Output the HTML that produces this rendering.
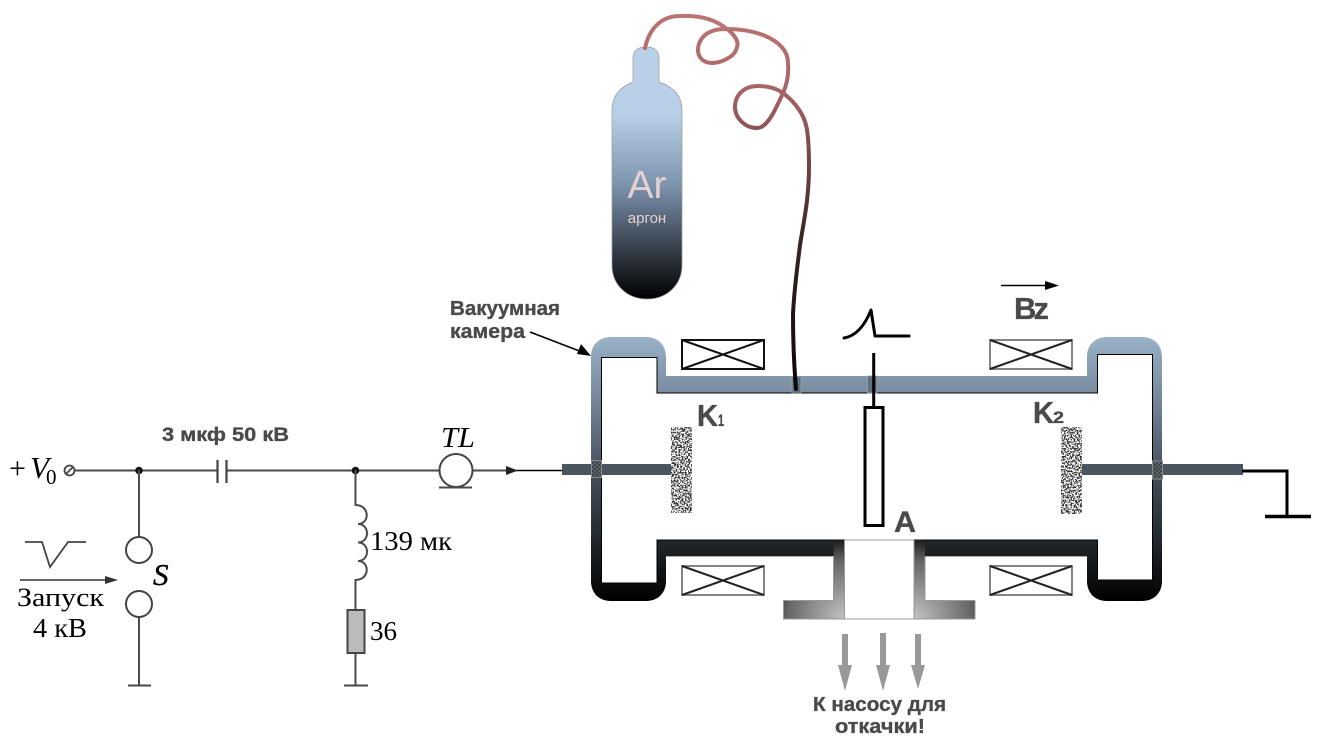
<!DOCTYPE html>
<html><head><meta charset="utf-8"><style>
html,body{margin:0;padding:0;background:#fff;width:1336px;height:736px;overflow:hidden}
svg{display:block}
.b{font-family:"Liberation Sans",sans-serif;font-weight:bold;fill:#4a4a4a;stroke:#4a4a4a;stroke-width:.35}
.s{font-family:"Liberation Serif",serif;fill:#000}
.w{stroke:#4a4a4a;stroke-width:2;fill:none}
</style></head><body>
<svg width="1336" height="736" viewBox="0 0 1336 736" xmlns="http://www.w3.org/2000/svg">
<defs>
<linearGradient id="ch" gradientUnits="userSpaceOnUse" x1="0" y1="337" x2="0" y2="601">
<stop offset="0" stop-color="#9ab1c8"/><stop offset=".2" stop-color="#7b8ea2"/><stop offset=".5" stop-color="#465260"/><stop offset=".8" stop-color="#1e2227"/><stop offset="1" stop-color="#000"/></linearGradient>
<linearGradient id="bot" gradientUnits="userSpaceOnUse" x1="0" y1="47" x2="0" y2="299">
<stop offset="0" stop-color="#b9d0e9"/><stop offset=".27" stop-color="#b8cfe8"/><stop offset=".55" stop-color="#7c93ad"/><stop offset=".75" stop-color="#44505f"/><stop offset=".9" stop-color="#1b1f25"/><stop offset="1" stop-color="#000"/></linearGradient>
<linearGradient id="hose" gradientUnits="userSpaceOnUse" x1="0" y1="15" x2="0" y2="390">
<stop offset="0" stop-color="#bb7474"/><stop offset=".2" stop-color="#a86464"/><stop offset=".35" stop-color="#7d4c4c"/><stop offset=".6" stop-color="#3a2424"/><stop offset="1" stop-color="#0a0606"/></linearGradient>
<radialGradient id="pl" gradientUnits="userSpaceOnUse" cx="845" cy="619" r="80">
<stop offset="0" stop-color="#c4c4c4"/><stop offset=".72" stop-color="#666"/><stop offset="1" stop-color="#1a1a1a"/></radialGradient>
<radialGradient id="pr" gradientUnits="userSpaceOnUse" cx="914" cy="619" r="80">
<stop offset="0" stop-color="#c4c4c4"/><stop offset=".72" stop-color="#666"/><stop offset="1" stop-color="#1a1a1a"/></radialGradient>
<filter id="noise" x="0" y="0" width="100%" height="100%" color-interpolation-filters="sRGB">
<feTurbulence type="fractalNoise" baseFrequency="0.62" numOctaves="2" seed="7"/>
<feColorMatrix type="matrix" values="0 0 0 0 .2  0 0 0 0 .2  0 0 0 0 .2  14 0 0 0 -6.6"/>
<feComposite in2="SourceAlpha" operator="in"/>
</filter>
<pattern id="chk" width="4" height="4" patternUnits="userSpaceOnUse">
<rect width="4" height="4" fill="#3c444c"/><rect width="2" height="2" fill="#5b636b"/><rect x="2" y="2" width="2" height="2" fill="#5b636b"/></pattern>
<pattern id="chk2" width="3" height="3" patternUnits="userSpaceOnUse">
<rect width="3" height="3" fill="#6c7f92"/><rect width="1.5" height="1.5" fill="#4f5f6e"/><rect x="1.5" y="1.5" width="1.5" height="1.5" fill="#4f5f6e"/></pattern>
</defs>

<!-- bottle -->
<path d="M645 47C638 47 633 51 633 58V82C620 87 612 96 612 110V265C612 285 627 299 647 299C667 299 682 285 682 265V110C682 96 674 87 659 82V58C659 51 654 47 647 47Z" fill="url(#bot)" stroke="#999" stroke-width=".7"/>
<text x="647" y="198" text-anchor="middle" font-family="Liberation Sans,sans-serif" font-size="39" fill="#e6d0d0">Ar</text>
<text x="647" y="223" text-anchor="middle" font-family="Liberation Sans,sans-serif" font-size="15" fill="#e6d0d0">аргон</text>

<!-- chamber -->
<path fill-rule="evenodd" fill="url(#ch)" d="M611 337H646C658 337 666 345 666 357V376H1087V357C1087 345 1095 337 1107 337H1142C1154 337 1162 345 1162 357V581C1162 593 1154 601 1142 601H1107C1095 601 1087 593 1087 581V556H666V581C666 593 658 601 646 601H611C599 601 591 593 591 581V357C591 345 599 337 611 337Z
M601.5 357.5V583H657V540H1097.5V580H1152.5V354.5H1097.5V393H657V357.5Z"/>
<path d="M601.5 357.5V583H657V540H1097.5V580H1152.5V354.5H1097.5V393H657V357.5Z" fill="#fff" stroke="#000" stroke-width="1"/>
<path d="M666 556.5H833M925 556.5H1087" stroke="#aaa" stroke-width="1" fill="none"/>

<!-- rods -->
<rect x="562" y="464" width="109" height="11" fill="#4a5560"/>
<rect x="1082" y="464" width="161" height="11" fill="#4a5560"/>
<rect x="591.5" y="460.5" width="10" height="17" fill="url(#chk)" stroke="#8a8a8a"/>
<rect x="1152.5" y="461" width="10" height="18" fill="url(#chk)" stroke="#8a8a8a"/>
<rect x="792" y="376.5" width="9" height="17" fill="url(#chk2)" stroke="#9aa5b0" stroke-width=".8"/>
<rect x="867.5" y="376" width="9.5" height="17" fill="url(#chk2)" stroke="#9aa0a8" stroke-width=".8"/>

<!-- cathodes -->
<rect x="671" y="427" width="21" height="86" fill="#000" filter="url(#noise)"/>
<rect x="1061" y="427" width="21" height="87" fill="#000" filter="url(#noise)"/>

<!-- hose -->
<path d="M645 48C649 30 660 16 680 16C700 15 716 20 727 29C735 35 739 42 737 47C736 52 733 55 730 57C724 61 717 63 712 63C703 63 698 57 698 50C698 42 703 35 710 32C716 29 722 29 727 29C740 29 752 31 763 35C778 41 788 50 788 63C789 74 787 84 783 93C776 108 768 128 757 128C745 128 735 118 735 107C735 94 745 86 758 86C768 86 776 88 783 93C795 102 805 115 807 130C809 142 809 155 809 167C809 200 803 225 800 245C797 270 794 290 793 315C793 345 794 365 796 389" fill="none" stroke="url(#hose)" stroke-width="4" stroke-linecap="round"/>

<!-- coils -->
<g fill="none">
<rect x="682" y="340" width="82" height="29" stroke="#111" stroke-width="2"/>
<path d="M682 340L764 369M764 340L682 369" stroke="#111" stroke-width="2"/>
<rect x="990" y="340" width="82" height="29" stroke="#777" stroke-width="1.8"/>
<path d="M990 340L1072 369M1072 340L990 369" stroke="#222" stroke-width="2"/>
<rect x="682" y="566" width="82" height="29" stroke="#777" stroke-width="1.8"/>
<path d="M682 566L764 595M764 566L682 595" stroke="#222" stroke-width="2"/>
<rect x="990" y="566" width="82" height="29" stroke="#777" stroke-width="1.8"/>
<path d="M990 566L1072 595M1072 566L990 595" stroke="#222" stroke-width="2"/>
</g>

<!-- probe -->
<path d="M873.7 353V407" stroke="#000" stroke-width="3"/>
<rect x="865" y="407.5" width="18" height="118" fill="#fff" stroke="#000" stroke-width="3"/>
<path d="M844 338C856 336 865 325 871 310L875 336H909" fill="none" stroke="#000" stroke-width="3" stroke-linejoin="round" stroke-linecap="round"/>

<!-- pump port -->
<rect x="845" y="540" width="69" height="79" fill="#fff"/>
<path d="M833.5 540H844.5V619H783.5V600.5H833.5Z" fill="url(#pl)"/>
<path d="M914 540H925V600.5H975V619H914Z" fill="url(#pr)"/>
<path d="M833.500 556V600.500H783.500V619H975V600.500H925V556M844.500 540V619M914 540V619M844.500 540H914" fill="none" stroke="#999" stroke-width="1"/>
<g fill="#999">
<path d="M842 634H848V665H852L845 691L838 665H842Z"/>
<path d="M880 633H886V665H890L883 691L876 665H880Z"/>
<path d="M915 634H921V665H925L918 689L911 665H915Z"/>
</g>

<!-- chamber labels -->
<text class="b" x="450" y="315" font-size="20" textLength="110" lengthAdjust="spacingAndGlyphs">Вакуумная</text>
<text class="b" x="450" y="338" font-size="20" textLength="75" lengthAdjust="spacingAndGlyphs">камера</text>
<path d="M530 332L582 352" stroke="#000" stroke-width="1.6"/>
<path d="M591 356L577 354L581 344Z" fill="#000"/>
<path d="M1001 285.500H1048" stroke="#000" stroke-width="1.600"/><path d="M1059 285.500L1045 281V290Z" fill="#000"/>
<text class="b" x="1014" y="319" font-size="31" textLength="35" lengthAdjust="spacing">Bz</text>
<text class="b" x="697" y="426" font-size="31" textLength="21" lengthAdjust="spacingAndGlyphs">K</text>
<text class="b" x="718" y="426" font-size="17" textLength="6" lengthAdjust="spacingAndGlyphs">1</text>
<text class="b" x="1033" y="423" font-size="31" textLength="21" lengthAdjust="spacingAndGlyphs">K</text>
<text class="b" x="1053" y="423" font-size="17" textLength="11" lengthAdjust="spacingAndGlyphs">2</text>
<text class="b" x="894" y="532" font-size="30" textLength="22" lengthAdjust="spacingAndGlyphs">A</text>
<text class="b" x="813" y="711" font-size="20" textLength="133" lengthAdjust="spacingAndGlyphs">К насосу для</text>
<text class="b" x="835" y="733" font-size="20" textLength="90" lengthAdjust="spacingAndGlyphs">откачки!</text>

<!-- ground -->
<path d="M1242 471H1287V516" fill="none" stroke="#000" stroke-width="3"/>
<path d="M1265 516.500H1311" stroke="#000" stroke-width="3.500"/>

<!-- circuit -->
<path class="w" d="M75 470.500H217M226.500 470.500H439M472 470.500H507"/>
<path d="M507 470.500H562" stroke="#000" stroke-width="1.400"/>
<path d="M518 470.500L506 466V475Z" fill="#222"/>
<path d="M217.500 460V483M226.500 460V483" stroke="#444" stroke-width="2.200"/>
<circle cx="139" cy="470.500" r="3.800" fill="#111"/><circle cx="355.500" cy="470.500" r="3.800" fill="#111"/>
<circle cx="69.500" cy="470.500" r="5" fill="#fff" stroke="#444" stroke-width="1.800"/>
<path d="M66 474L73 467" stroke="#444" stroke-width="1.800"/>
<path class="w" d="M139 470V537M139 617V685M128 685.500H151"/>
<circle cx="139" cy="550" r="13" fill="#fff" stroke="#444" stroke-width="2"/>
<circle cx="139" cy="604" r="13" fill="#fff" stroke="#444" stroke-width="2"/>
<path class="w" d="M355.500 470V505C370 505 370 524 358 524C370 524 370 542.500 358 542.500C370 542.500 370 561 358 561C370 561 370 580 355.500 580V610M355.500 653V685M344 685.500H368"/>
<rect x="347.500" y="610" width="17" height="43" fill="#bbb" stroke="#444" stroke-width="2"/>
<circle cx="456" cy="470.500" r="16.500" fill="#fff" stroke="#444" stroke-width="2"/>
<path class="w" d="M439 487.500H472"/>
<path d="M25 542H42L50 567L68 542H86" fill="none" stroke="#444" stroke-width="1.800"/>
<path d="M20 580H108" stroke="#333" stroke-width="1.600"/><path d="M118 580L105 576V584Z" fill="#333"/>
<text class="s" x="9" y="478" font-size="30">+</text>
<text class="s" x="30" y="478" font-size="31" font-style="italic">V</text>
<text class="s" x="46" y="484" font-size="21">0</text>
<text class="b" x="162" y="441" font-size="19" textLength="127" lengthAdjust="spacingAndGlyphs">3 мкф 50 кВ</text>
<text class="s" x="441" y="447" font-size="28" font-style="italic" textLength="34" lengthAdjust="spacingAndGlyphs">TL</text>
<text class="s" x="153" y="585" font-size="31" font-style="italic" stroke="#000" stroke-width=".4">S</text>
<text class="s" x="17" y="606" font-size="26" textLength="87" lengthAdjust="spacingAndGlyphs">Запуск</text>
<text class="s" x="33" y="637" font-size="27" textLength="54" lengthAdjust="spacingAndGlyphs">4 кВ</text>
<text class="s" x="370" y="550" font-size="27" textLength="82" lengthAdjust="spacingAndGlyphs">139 мк</text>
<text class="s" x="370" y="640" font-size="27" textLength="27" lengthAdjust="spacingAndGlyphs">36</text>
</svg>
</body></html>
